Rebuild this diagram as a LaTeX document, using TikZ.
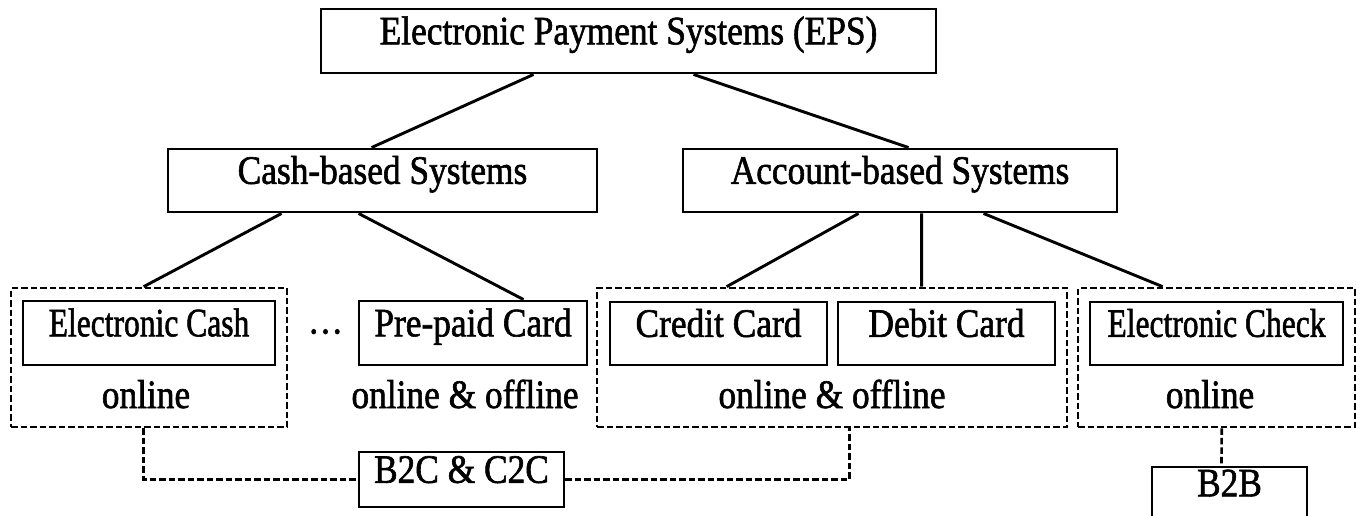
\documentclass[tikz,border=0pt]{standalone}
\usepackage{fontspec}
\setmainfont{Liberation Serif}[FakeBold=1.6]
\usepackage{graphicx}
\newcommand{\hsq}[2]{\scalebox{#1}[1.06]{#2}}
\tikzset{
  x=1pt, y=-1pt,
  boxnode/.style={draw, line width=2.9pt, inner sep=0pt, text height=0.66em, text depth=0pt,
    font=\fontsize{38}{40}\selectfont},
  grpnode/.style={draw, line width=2.7pt, dash pattern=on 6.5pt off 3pt, inner sep=0pt},
  lblnode/.style={inner sep=0pt, anchor=base, font=\fontsize{38}{40}\selectfont},
  link/.style={line width=2.9pt},
  dlink/.style={line width=2.7pt, dash pattern=on 6.5pt off 3pt},
}
\begin{document}
\begin{tikzpicture}
\useasboundingbox (0,0) rectangle (1356,515);
% top levels
\node[boxnode, minimum width=615pt, minimum height=64pt] (eps) at (628.5,41) {\hsq{0.93}{Electronic Payment Systems (EPS)}};
\node[boxnode, minimum width=429pt, minimum height=63pt] (cash) at (382.5,180.5) {\hsq{0.93}{Cash-based Systems}};
\node[boxnode, minimum width=434pt, minimum height=63pt] (acct) at (900,180.5) {\hsq{0.93}{Account-based Systems}};
% groups
\node[grpnode, minimum width=276pt, minimum height=139pt] (ecg) at (149,357.5) {};
\node[grpnode, minimum width=470pt, minimum height=139pt] (acg) at (832,357.5) {};
\node[grpnode, minimum width=277pt, minimum height=139pt] (ckg) at (1216.5,357.5) {};
% leaf boxes
\node[boxnode, minimum width=252pt, minimum height=64pt] (ec) at (149,333) {\hsq{0.83}{Electronic Cash}};
\node[boxnode, minimum width=228pt, minimum height=64pt] (pre) at (473,333) {\hsq{0.93}{Pre-paid Card}};
\node[boxnode, minimum width=217pt, minimum height=63pt] (cc) at (718.5,333.5) {\hsq{0.93}{Credit Card}};
\node[boxnode, minimum width=217pt, minimum height=63pt] (dc) at (946.5,333.5) {\hsq{0.93}{Debit Card}};
\node[boxnode, minimum width=253pt, minimum height=63pt] (ck) at (1216.5,333.5) {\hsq{0.83}{Electronic Check}};
% labels
\node[lblnode] (onl1) at (146,408) {\hsq{0.93}{online}};
\node[lblnode] (dots) at (325.5,345) {\hsq{0.93}{···}};
\node[lblnode] (onl2) at (465,408) {\hsq{0.93}{online \& offline}};
\node[lblnode] (onl3) at (832,408) {\hsq{0.93}{online \& offline}};
\node[lblnode] (onl4) at (1210,408) {\hsq{0.93}{online}};
% bottom boxes
\node[boxnode, minimum width=205pt, minimum height=55pt] (b2c) at (461.5,479.5) {\hsq{0.93}{B2C \& C2C}};
\node[boxnode, minimum width=155pt, minimum height=52pt] (b2b) at (1229.5,493) {\hsq{0.93}{B2B}};
% solid connectors
\draw[link] ([xshift=214pt]eps.south west) -- ([xshift=205pt]cash.north west);
\draw[link] ([xshift=374pt]eps.south west) -- ([xshift=227pt]acct.north west);
\draw[link] ([xshift=115pt]cash.south west) -- ([xshift=134pt]ecg.north west);
\draw[link] ([xshift=192pt]cash.south west) -- ([xshift=166pt]pre.north west);
\draw[link] ([xshift=177pt]acct.south west) -- ([xshift=131pt]acg.north west);
\draw[link] ([xshift=240pt]acct.south west) -- ([xshift=326pt]acg.north west);
\draw[link] ([xshift=302pt]acct.south west) -- ([xshift=86pt]ckg.north west);
% dashed connectors
\draw[dlink] ([xshift=134pt]ecg.south west) |- (b2c.west);
\draw[dlink] (b2c.east) -| ([xshift=254pt]acg.south west);
\draw[dlink] ([xshift=145pt]ckg.south west) -- ([xshift=71pt]b2b.north west);
\end{tikzpicture}
\end{document}
